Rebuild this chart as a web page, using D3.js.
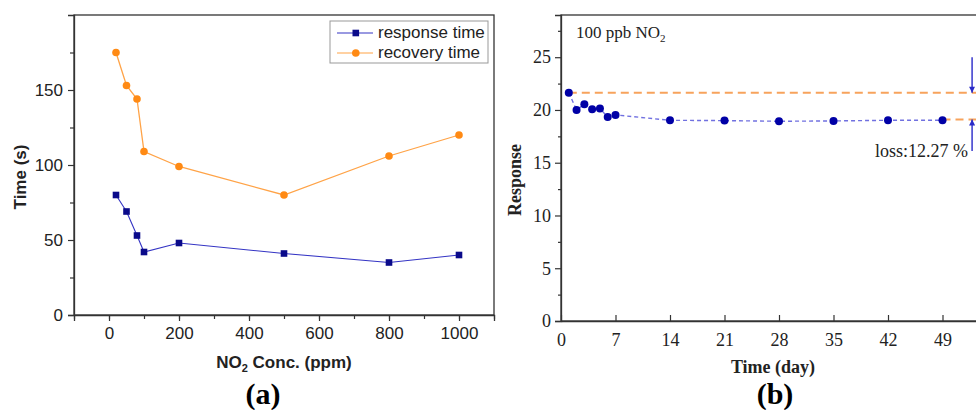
<!DOCTYPE html>
<html>
<head>
<meta charset="utf-8">
<script src="https://cdn.jsdelivr.net/npm/d3@7"></script>
<style>
  body { margin: 0; background: #fff; }
  svg { display: block; }
</style>
</head>
<body>
<div id="chart"></div>
<script>
// Panel (a) data: NO2 concentration (ppm) vs time (s)
var concPpm = [20, 50, 80, 100, 200, 500, 800, 1000];
var responseTime = [80, 69, 53, 42, 48, 41, 35, 40];
var recoveryTime = [175, 153, 144, 109, 99, 80, 106, 120];
var seriesNames = ["response time", "recovery time"];
var xTicksA = [0, 200, 400, 600, 800, 1000];
var yTicksA = [0, 50, 100, 150];

// Panel (b) data: stability over days
var days = [1, 2, 3, 4, 5, 6, 7, 14, 21, 28, 35, 42, 49];
var responseB = [21.64, 20.0, 20.54, 20.06, 20.13, 19.34, 19.53, 19.02, 18.99, 18.93, 18.96, 19.02, 19.02];
var xTicksB = [0, 7, 14, 21, 28, 35, 42, 49];
var yTicksB = [0, 5, 10, 15, 20, 25];
var lossLevels = [21.64, 19.1];
var lossLabel = "loss:12.27 %";

var svg = d3.select("#chart")
  .append("svg")
  .attr("width", 976)
  .attr("height", 410);

///////////////// Panel (a)
var a = { left: 74, top: 15, right: 494, bottom: 315 };

var xA = d3.scaleLinear().domain([-100, 1100]).range([a.left, a.right]);
var yA = d3.scaleLinear().domain([0, 200]).range([a.bottom, a.top]);

var gA = svg.append("g").attr("font-family", "'Liberation Sans', Arial, sans-serif");

// frame
gA.append("rect")
  .attr("x", a.left).attr("y", a.top)
  .attr("width", a.right - a.left).attr("height", a.bottom - a.top)
  .attr("fill", "none").attr("stroke", "#333").attr("stroke-width", 1.3);

// minor ticks
gA.append("g")
  .attr("transform", `translate(0,${a.bottom})`)
  .call(d3.axisBottom(xA).tickValues(d3.range(-100, 1101, 100)).tickSize(4).tickFormat(""))
  .call(g => g.select(".domain").remove());
gA.append("g")
  .attr("transform", `translate(${a.left},0)`)
  .call(d3.axisLeft(yA).tickValues(d3.range(25, 200, 50)).tickSize(4).tickFormat(""))
  .call(g => g.select(".domain").remove());

gA.append("g")
  .attr("transform", `translate(0,${a.bottom})`)
  .call(d3.axisBottom(xA).tickValues(xTicksA).tickSize(6).tickPadding(6).tickFormat(d3.format("d")));
gA.append("g")
  .attr("transform", `translate(${a.left},0)`)
  .call(d3.axisLeft(yA).tickValues(yTicksA).tickSize(6).tickPadding(5).tickFormat(d3.format("d")));

gA.selectAll(".tick line").attr("stroke", "#333").attr("stroke-width", 1.2);
gA.selectAll(".domain").attr("stroke", "#333").attr("stroke-width", 1.3);
gA.selectAll(".tick text").attr("font-size", "17px").attr("fill", "#222")
  .attr("font-family", "'Liberation Sans', Arial, sans-serif");

var lineA = d3.line()
  .x(function(d) { return xA(d[0]); })
  .y(function(d) { return yA(d[1]); });

var respPts = concPpm.map((c, i) => [c, responseTime[i]]);
var recPts = concPpm.map((c, i) => [c, recoveryTime[i]]);

gA.append("path").datum(recPts)
  .attr("d", lineA).attr("fill", "none")
  .attr("stroke", "#ffa347").attr("stroke-width", 1.3);
gA.append("path").datum(respPts)
  .attr("d", lineA).attr("fill", "none")
  .attr("stroke", "#3434c4").attr("stroke-width", 1.1);

gA.selectAll("circle.rec")
  .data(recPts)
  .enter().append("circle")
    .attr("class", "rec")
    .attr("cx", function(d) { return xA(d[0]); })
    .attr("cy", function(d) { return yA(d[1]); })
    .attr("r", 3.8)
    .attr("fill", "#ff8a14");

gA.selectAll("rect.resp")
  .data(respPts)
  .enter().append("rect")
    .attr("class", "resp")
    .attr("x", function(d) { return xA(d[0]) - 3.3; })
    .attr("y", function(d) { return yA(d[1]) - 3.3; })
    .attr("width", 6.6).attr("height", 6.6)
    .attr("fill", "#0a0a8a");

// legend
var leg = gA.append("g");
leg.append("rect")
  .attr("x", 330).attr("y", 21).attr("width", 158).attr("height", 42)
  .attr("fill", "#fff").attr("stroke", "#999").attr("stroke-width", 1);

var legY = [33, 53];
var legColors = [["#3434c4", "#0a0a8a"], ["#ffa347", "#ff8a14"]];
seriesNames.forEach(function(name, i) {
  leg.append("line")
    .attr("x1", 337).attr("x2", 373).attr("y1", legY[i]).attr("y2", legY[i])
    .attr("stroke", legColors[i][0]).attr("stroke-width", 1.2);
  if (i == 0) {
    leg.append("rect").attr("x", 352.5).attr("y", legY[i] - 3.3)
      .attr("width", 6.6).attr("height", 6.6).attr("fill", legColors[i][1]);
  } else {
    leg.append("circle").attr("cx", 355.8).attr("cy", legY[i])
      .attr("r", 3.8).attr("fill", legColors[i][1]);
  }
  leg.append("text")
    .attr("x", 378).attr("y", legY[i] + 5)
    .attr("font-size", "17px").attr("fill", "#222")
    .text(name);
});

// axis titles
gA.append("text")
  .attr("transform", "rotate(-90)")
  .attr("x", -177).attr("y", 25.5)
  .attr("text-anchor", "middle")
  .attr("font-size", "17px").attr("font-weight", "bold").attr("fill", "#222")
  .text("Time (s)");

var tA = gA.append("text")
  .attr("x", 284).attr("y", 368)
  .attr("text-anchor", "middle")
  .attr("font-size", "17px").attr("font-weight", "bold").attr("fill", "#222");
tA.append("tspan").text("NO");
tA.append("tspan").attr("font-size", "11px").attr("dy", 4).text("2");
tA.append("tspan").attr("dy", -4).text(" Conc. (ppm)");

svg.append("text")
  .attr("x", 263).attr("y", 404)
  .attr("text-anchor", "middle")
  .attr("font-family", "'Liberation Serif', 'Times New Roman', serif")
  .attr("font-size", "30px").attr("font-weight", "bold")
  .text("(a)");

///////////////// Panel (b)
var b = { left: 561, top: 15, right: 997, bottom: 321 };

var xB = d3.scaleLinear().domain([0, 56]).range([b.left, b.right]);
var yB = d3.scaleLinear().domain([0, 29]).range([b.bottom, b.top]);

var gB = svg.append("g").attr("font-family", "'Liberation Serif', 'Times New Roman', serif");

gB.append("rect")
  .attr("x", b.left).attr("y", b.top)
  .attr("width", b.right - b.left).attr("height", b.bottom - b.top)
  .attr("fill", "none").attr("stroke", "#333").attr("stroke-width", 1.3);

gB.append("g")
  .attr("transform", `translate(${b.left},0)`)
  .call(d3.axisLeft(yB).tickValues(d3.range(2.5, 29, 5)).tickSize(3).tickFormat(""))
  .call(g => g.select(".domain").remove());

gB.append("g")
  .attr("transform", `translate(0,${b.bottom})`)
  .call(d3.axisBottom(xB).tickValues(xTicksB).tickSizeInner(-6).tickSizeOuter(0).tickPadding(12));
gB.append("g")
  .attr("transform", `translate(${b.left},0)`)
  .call(d3.axisLeft(yB).tickValues(yTicksB).tickSize(6).tickPadding(4));

gB.selectAll(".tick line").attr("stroke", "#333").attr("stroke-width", 1.2);
gB.selectAll(".domain").attr("stroke", "#333").attr("stroke-width", 1.3);
gB.selectAll(".tick text").attr("font-size", "18px").attr("fill", "#222")
  .attr("font-family", "'Liberation Serif', 'Times New Roman', serif");

// reference dashed lines
gB.append("line")
  .attr("x1", xB(days[0])).attr("x2", 976)
  .attr("y1", yB(lossLevels[0])).attr("y2", yB(lossLevels[0]))
  .attr("stroke", "#f7a35c").attr("stroke-width", 2).attr("stroke-dasharray", "8,5");
gB.append("line")
  .attr("x1", xB(days[days.length - 1])).attr("x2", 976)
  .attr("y1", yB(lossLevels[1])).attr("y2", yB(lossLevels[1]))
  .attr("stroke", "#f7a35c").attr("stroke-width", 2).attr("stroke-dasharray", "8,5");

var lineB = d3.line()
  .x(function(d, i) { return xB(days[i]); })
  .y(function(d) { return yB(d); });

gB.append("path").datum(responseB)
  .attr("d", lineB).attr("fill", "none")
  .attr("stroke", "#7070e0").attr("stroke-width", 1.4).attr("stroke-dasharray", "4,3");

gB.selectAll("circle")
  .data(responseB)
  .enter().append("circle")
    .attr("cx", function(d, i) { return xB(days[i]); })
    .attr("cy", function(d) { return yB(d); })
    .attr("r", 4)
    .attr("fill", "#0000a6");

// arrows
var defs = svg.append("defs");
defs.append("marker")
  .attr("id", "arr")
  .attr("viewBox", "0 0 10 10").attr("refX", 10).attr("refY", 5)
  .attr("markerWidth", 9).attr("markerHeight", 6)
  .attr("markerUnits", "userSpaceOnUse")
  .attr("orient", "auto")
  .append("path").attr("d", "M0,0L10,5L0,10Z").attr("fill", "#2a2ac8");

var arrowX = xB(52.8);
gB.append("line")
  .attr("x1", arrowX).attr("x2", arrowX)
  .attr("y1", yB(25)).attr("y2", yB(lossLevels[0]))
  .attr("stroke", "#2a2ac8").attr("stroke-width", 1.4)
  .attr("marker-end", "url(#arr)");
gB.append("line")
  .attr("x1", arrowX).attr("x2", arrowX)
  .attr("y1", yB(16.1)).attr("y2", yB(lossLevels[1]))
  .attr("stroke", "#2a2ac8").attr("stroke-width", 1.4)
  .attr("marker-end", "url(#arr)");

gB.append("text")
  .attr("x", 968).attr("y", 157)
  .attr("text-anchor", "end")
  .attr("font-size", "18px").attr("fill", "#222")
  .text(lossLabel);

var note = gB.append("text")
  .attr("x", 576).attr("y", 37.5)
  .attr("font-size", "17px").attr("fill", "#222");
note.append("tspan").text("100 ppb NO");
note.append("tspan").attr("font-size", "11px").attr("dy", 4).text("2");

gB.append("text")
  .attr("transform", "rotate(-90)")
  .attr("x", -180).attr("y", 520.5)
  .attr("text-anchor", "middle")
  .attr("font-size", "18px").attr("font-weight", "bold").attr("fill", "#222")
  .text("Response");

gB.append("text")
  .attr("x", 773).attr("y", 373)
  .attr("text-anchor", "middle")
  .attr("font-size", "18px").attr("font-weight", "bold").attr("fill", "#222")
  .text("Time (day)");

gB.append("text")
  .attr("x", 775).attr("y", 404)
  .attr("text-anchor", "middle")
  .attr("font-size", "30px").attr("font-weight", "bold")
  .text("(b)");
</script>
</body>
</html>
